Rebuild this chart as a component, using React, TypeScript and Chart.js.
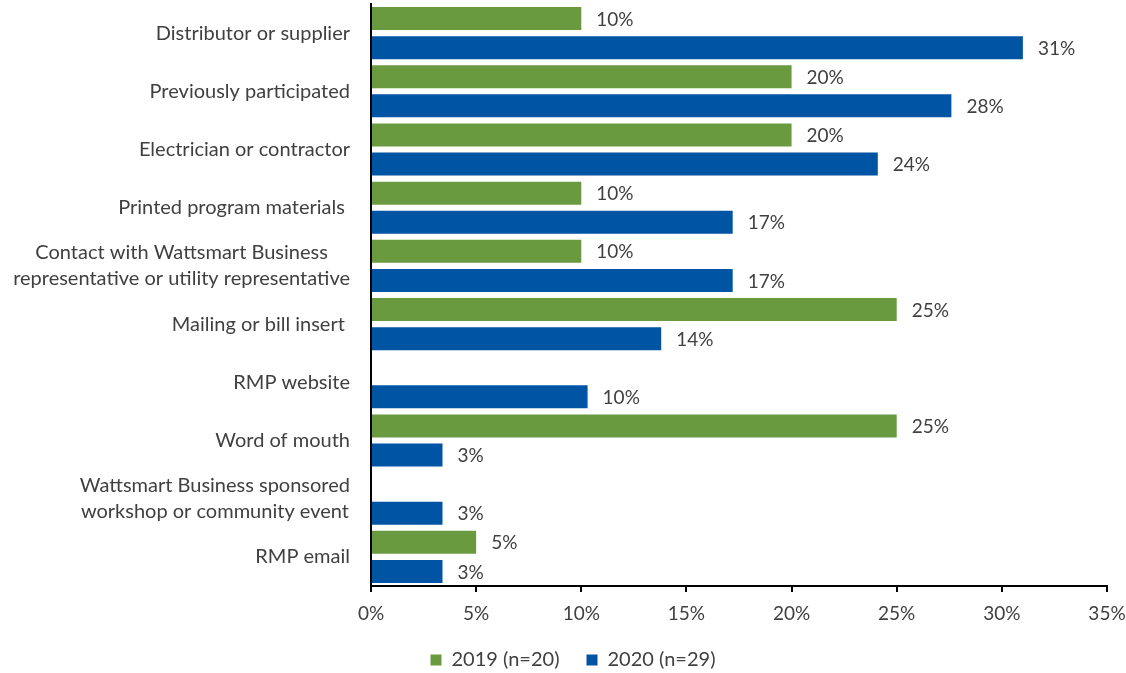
import React, { useEffect, useRef } from "react";
import { Chart, registerables } from "chart.js";

Chart.register(...registerables);

const categories: (string | string[])[] = [
  "Distributor or supplier",
  "Previously participated",
  "Electrician or contractor",
  "Printed program materials ",
  ["Contact with Wattsmart Business", "representative or utility representative"],
  "Mailing or bill insert ",
  "RMP website",
  "Word of mouth",
  ["Wattsmart Business sponsored", "workshop or community event"],
  "RMP email",
];

const values2019: (number | null)[] = [10, 20, 20, 10, 10, 25, null, 25, null, 5];
const values2020: number[] = [31.0, 27.6, 24.1, 17.2, 17.2, 13.8, 10.3, 3.4, 3.4, 3.4];

const seriesLabels = ["2019 (n=20)", "2020 (n=29)"];
const xTicks = [0, 5, 10, 15, 20, 25, 30, 35];

const FONT = "Lato, 'Noto Sans', sans-serif";
const TEXT = "#404040";
const LABEL_SIZE = 20;
const NUM_SIZE = 19;

const dataLabelPlugin = {
  id: "barValueLabels",
  afterDatasetsDraw(chart: any) {
    const ctx = chart.ctx;
    ctx.save();
    ctx.font = `${NUM_SIZE}px ${FONT}`;
    ctx.fillStyle = TEXT;
    ctx.textBaseline = "middle";
    ctx.textAlign = "left";
    chart.data.datasets.forEach((ds: any, di: number) => {
      const meta = chart.getDatasetMeta(di);
      meta.data.forEach((bar: any, i: number) => {
        const v = ds.data[i];
        if (v === null || v === undefined || v === 0) return;
        ctx.fillText(Math.round(v) + "%", bar.x + 15, bar.y + 1);
      });
    });
    ctx.restore();
  },
};

const categoryLabelPlugin = {
  id: "categoryLabels",
  afterDraw(chart: any) {
    const ctx = chart.ctx;
    const y = chart.scales.y;
    const rightEdge = chart.chartArea.left - 21;
    const lineH = 26;
    ctx.save();
    ctx.font = `${LABEL_SIZE}px ${FONT}`;
    ctx.fillStyle = TEXT;
    ctx.textBaseline = "middle";
    ctx.textAlign = "center";
    (chart.data.labels as (string | string[])[]).forEach((lab, i) => {
      const lines = Array.isArray(lab) ? lab : [lab];
      const widths = lines.map((l) => ctx.measureText(l).width);
      const blockW = Math.max(...widths);
      const cx = rightEdge - blockW / 2;
      const cy = y.getPixelForTick(i);
      const startY = cy - ((lines.length - 1) * lineH) / 2;
      lines.forEach((l, k) => {
        ctx.fillText(l, cx, startY + k * lineH);
      });
    });
    ctx.restore();
  },
};

export default function App() {
  const ref = useRef<HTMLCanvasElement>(null);
  useEffect(() => {
    document.body.style.margin = "0";
    const chart = new Chart(ref.current!, {
      type: "bar",
      data: {
        labels: categories,
        datasets: [
          {
            label: seriesLabels[0],
            data: values2019,
            backgroundColor: "#6A9A40",
            borderWidth: 0,
            barPercentage: 0.79,
            categoryPercentage: 1,
          },
          {
            label: seriesLabels[1],
            data: values2020,
            backgroundColor: "#0054A4",
            borderWidth: 0,
            barPercentage: 0.79,
            categoryPercentage: 1,
          },
        ],
      },
      options: {
        indexAxis: "y",
        animation: false,
        responsive: false,
        maintainAspectRatio: false,
        layout: { padding: { top: 4, right: 19, bottom: 0, left: 39 } },
        scales: {
          x: {
            min: 0,
            max: 35,
            afterBuildTicks: (scale: any) => {
              scale.ticks = xTicks.map((v) => ({ value: v }));
            },
            afterFit: (scale: any) => {
              scale.height = 37;
              scale.paddingLeft = 0;
              scale.paddingRight = 0;
            },
            ticks: {
              callback: (v: any) => v + "%",
              color: TEXT,
              font: { size: NUM_SIZE, family: FONT },
              padding: 10,
              maxRotation: 0,
            },
            grid: {
              display: true,
              drawOnChartArea: false,
              drawTicks: true,
              tickLength: 6,
              color: "#000",
              lineWidth: 2,
            },
            border: { display: true, color: "#000", width: 2 },
          },
          y: {
            afterFit: (scale: any) => {
              scale.width = 332;
            },
            ticks: { display: false },
            grid: { display: false, drawTicks: false },
            border: { display: true, color: "#000", width: 2 },
          },
        },
        plugins: {
          legend: {
            position: "bottom",
            maxHeight: 50,
            labels: {
              boxWidth: 11,
              boxHeight: 11,
              color: TEXT,
              font: { size: LABEL_SIZE, family: FONT },
              padding: 27,
            },
          },
          tooltip: { enabled: false },
        },
      },
      plugins: [dataLabelPlugin, categoryLabelPlugin],
    } as any);
    return () => chart.destroy();
  }, []);
  return (
    <div style={{ width: 1126, height: 673, background: "#fff" }}>
      <canvas ref={ref} width={1126} height={673} style={{ display: "block" }} />
    </div>
  );
}
